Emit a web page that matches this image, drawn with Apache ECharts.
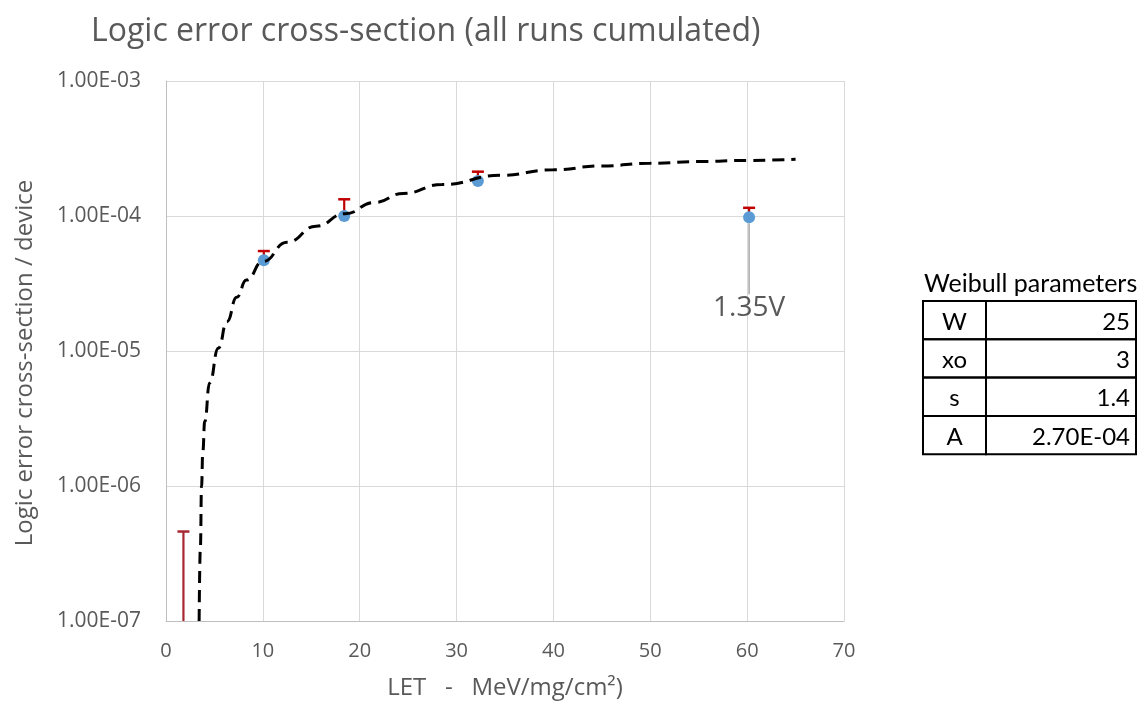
<!DOCTYPE html>
<html>
<head>
<meta charset="utf-8">
<script src="https://cdn.jsdelivr.net/npm/echarts@6/dist/echarts.min.js"></script>
<style>
  html, body { margin: 0; padding: 0; background: #fff; }
  #chart { width: 1143px; height: 709px; }
</style>
</head>
<body>
<div id="chart"></div>
<script>
// measured points (LET, cross-section) and upper error bar ends
var letValues = [1.8, 10.1, 18.4, 32.2, 60.2];
var sigmaValues = ['-', 4.7e-5, 1.0e-4, 1.82e-4, 9.8e-5];
var sigmaUpper = [4.6e-7, 5.5e-5, 1.33e-4, 2.13e-4, 1.15e-4];
var pointNotes = ['', '', '', '', '1.35V'];

// weibull fit curve
var fitLet = [3.42, 3.55, 3.67, 3.8, 4.0, 4.5, 5.4, 6.3, 7.3, 8.3, 10.0, 12.5, 15.5, 18.5, 21.5, 24.5, 28.5, 34.5, 40, 45, 50, 55, 60, 65];
var fitSigma = [1.0e-7, 3.5e-7, 1.0e-6, 1.8e-6, 3.0e-6, 5.8e-6, 1.05e-5, 1.65e-5, 2.5e-5, 3.35e-5, 4.6e-5, 6.4e-5, 8.4e-5, 1.04e-4, 1.26e-4, 1.47e-4, 1.71e-4, 2.0e-4, 2.2e-4, 2.35e-4, 2.46e-4, 2.53e-4, 2.58e-4, 2.63e-4];

var yTickLabels = ['1.00E-07', '1.00E-06', '1.00E-05', '1.00E-04', '1.00E-03'];
var xTickLabels = ['0', '10', '20', '30', '40', '50', '60', '70'];

// weibull parameters table
var paramNames = ['W', 'xo', 's', 'A'];
var paramValues = ['25', '3', '1.4', '2.70E-04'];

var grey = '#595959';
var yMin = 1e-7;

var chart = echarts.init(document.getElementById('chart'));

var pointData = letValues.map(function (x, i) {
  var item = { value: [x, sigmaValues[i]] };
  if (pointNotes[i]) {
    item.label = { show: true, formatter: pointNotes[i] };
  }
  return item;
});

var errData = letValues.map(function (x, i) {
  var base = sigmaValues[i] === '-' ? yMin : sigmaValues[i];
  return [x, base, sigmaUpper[i]];
});

var fitData = fitLet.map(function (x, i) { return [x, fitSigma[i]]; });

// table drawn with graphic elements
var tblLeft = 923, tblMid = 986, tblRight = 1136, tblTop = 301, rowH = 38.3;
var tableGraphics = [{
  type: 'text', left: 924, top: 271,
  style: { text: 'Weibull parameters', font: '25px Lato', fill: '#000' }
}];
paramNames.forEach(function (name, i) {
  var y = tblTop + i * rowH;
  tableGraphics.push({
    type: 'rect', shape: { x: tblLeft, y: y, width: tblMid - tblLeft, height: rowH },
    style: { fill: 'none', stroke: '#000', lineWidth: 2 }
  });
  tableGraphics.push({
    type: 'rect', shape: { x: tblMid, y: y, width: tblRight - tblMid, height: rowH },
    style: { fill: 'none', stroke: '#000', lineWidth: 2 }
  });
  tableGraphics.push({
    type: 'text', x: (tblLeft + tblMid) / 2, y: y + 21,
    style: { text: name, font: '24px Lato', fill: '#000', align: 'center', verticalAlign: 'middle' }
  });
  tableGraphics.push({
    type: 'text', x: tblRight - 6, y: y + 21,
    style: { text: paramValues[i], font: '24px Lato', fill: '#000', align: 'right', verticalAlign: 'middle' }
  });
});

var option = {
  animation: false,
  title: {
    text: 'Logic error cross-section (all runs cumulated)',
    left: 91,
    top: 16,
    padding: 0,
    textStyle: { fontFamily: 'Open Sans', fontWeight: 'normal', fontSize: 32, color: grey }
  },
  grid: { left: 166, right: 299, top: 81, bottom: 88 },
  xAxis: {
    type: 'value',
    min: 0,
    max: 70,
    interval: 10,
    name: 'LET   -   MeV/mg/cm²)',
    nameLocation: 'middle',
    nameGap: 55,
    nameTextStyle: { fontFamily: 'Open Sans', fontSize: 24, color: grey },
    axisLine: { show: true, lineStyle: { color: '#bfbfbf' } },
    axisTick: { show: false },
    axisLabel: {
      margin: 20,
      fontFamily: 'Open Sans', fontSize: 20, color: grey,
      formatter: function (v) { return xTickLabels[Math.round(v / 10)]; }
    },
    splitLine: { show: true, lineStyle: { color: '#d9d9d9' } }
  },
  yAxis: {
    type: 'log',
    logBase: 10,
    min: 1e-7,
    max: 1e-3,
    name: 'Logic error cross-section / device',
    nameLocation: 'middle',
    nameGap: 129,
    nameTextStyle: { fontFamily: 'Open Sans', fontSize: 24, color: grey, padding: [0, 24, 0, 0] },
    axisLine: { show: true, lineStyle: { color: '#bfbfbf' } },
    axisTick: { show: false },
    axisLabel: {
      margin: 25,
      fontFamily: 'Open Sans', fontSize: 21, color: grey,
      formatter: function (v) { return yTickLabels[Math.round(Math.log10(v)) + 7]; }
    },
    splitLine: { show: true, lineStyle: { color: '#d9d9d9' } }
  },
  graphic: tableGraphics,
  series: [
    {
      type: 'custom',
      z: 2,
      itemStyle: { color: '#c00000' },
      renderItem: function (params, api) {
        var x = api.value(0);
        var lo = api.coord([x, api.value(1)]);
        var hi = api.coord([x, api.value(2)]);
        var cap = 6;
        // the first bar (no measured point) is a darker red in the original
        var col = params.dataIndex === 0 ? '#a82832' : '#c00000';
        return {
          type: 'group',
          children: [
            { type: 'line', shape: { x1: lo[0], y1: lo[1], x2: hi[0], y2: hi[1] },
              style: { stroke: col, lineWidth: 2.2 } },
            { type: 'line', shape: { x1: hi[0] - cap, y1: hi[1], x2: hi[0] + cap, y2: hi[1] },
              style: { stroke: col, lineWidth: 2.5 } }
          ]
        };
      },
      data: errData
    },
    {
      type: 'scatter',
      z: 3,
      symbol: 'circle',
      symbolSize: 12,
      itemStyle: { color: '#5b9bd5', opacity: 1 },
      label: {
        show: false,
        position: 'bottom',
        fontFamily: 'Open Sans',
        fontSize: 28,
        color: grey
      },
      labelLayout: function (params) {
        if (pointNotes[params.dataIndex]) {
          return { dy: 66 };
        }
      },
      labelLine: { show: true, lineStyle: { color: '#a6a6a6', width: 1.5 } },
      data: pointData
    },
    {
      type: 'line',
      z: 4,
      smooth: 0.5,
      smoothMonotone: 'x',
      showSymbol: false,
      lineStyle: { color: '#000', width: 3, type: [12, 7] },
      data: fitData
    }
  ]
};

chart.setOption(option);
</script>
</body>
</html>
